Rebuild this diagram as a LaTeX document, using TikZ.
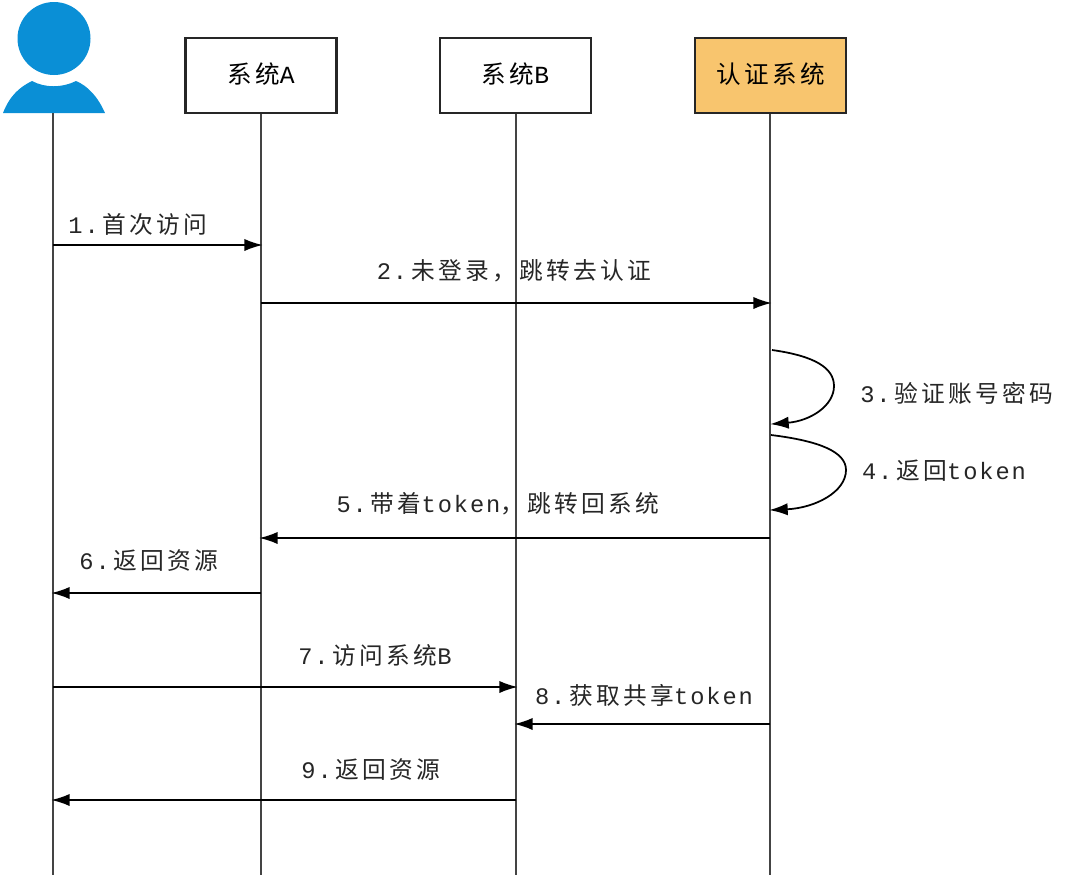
\documentclass[tikz,border=0pt]{standalone}
\usepackage{fontspec}
\setmainfont[LetterSpace=14]{Noto Sans CJK SC}
\newfontfamily\latinfont[LetterSpace=8]{Liberation Mono}
\usetikzlibrary{arrows.meta}
\definecolor{userblue}{HTML}{0A8FD6}
\definecolor{authgold}{HTML}{F8C56E}
\definecolor{lifegray}{HTML}{444444}
\newcommand{\lat}[1]{{\latinfont #1}}
\tikzset{
  sysbox/.style={draw=black!85, line width=1.25pt, minimum width=3.02cm, minimum height=1.5cm, inner sep=0pt, font=\fontsize{14}{16}\selectfont},
  lifeline/.style={lifegray, line width=1.25pt},
  msg/.style={black, line width=1pt, shorten >=-1pt, -{Latex[length=10.5pt,width=7pt]}},
  msglabel/.style={inner sep=0pt, font=\fontsize{13.5}{16}\selectfont, text=black!85},
}
\begin{document}
\begin{tikzpicture}[x=0.02cm, y=-0.02cm]
    \useasboundingbox (0,0) rectangle (1080,877);
    % user icon
    \fill[userblue] (54,38.5) circle (36.5);
    \fill[userblue] (3,113) .. controls (10,95) and (20,87) .. (32,81) .. controls (45,88) and (62,88) .. (76,81) .. controls (88,86) and (98,97) .. (105,113) -- cycle;
    \coordinate (user) at (53,113);
    % systems
    \node[sysbox, text depth=0pt] (sysA) at (261,75.5) {\raisebox{2.5pt}{系统\lat{A}}};
    \node[sysbox, text depth=0pt] (sysB) at (515.5,75.5) {\raisebox{2.5pt}{系统\lat{B}}};
    \node[sysbox, fill=authgold, text depth=0pt] (auth) at (770.5,75.5) {\raisebox{2.5pt}{认证系统}};
    % lifelines
    \coordinate (userEnd) at (53,875);
    \coordinate (sysAEnd) at (261,875);
    \coordinate (sysBEnd) at (516,875);
    \coordinate (authEnd) at (770,875);
    \draw[lifeline] (user) -- (userEnd);
    \draw[lifeline] (sysA.south -| sysAEnd) -- (sysAEnd);
    \draw[lifeline] (sysB.south -| sysBEnd) -- (sysBEnd);
    \draw[lifeline] (auth.south -| authEnd) -- (authEnd);
    % messages
    \draw[msg] (53,245) coordinate (m1a) -- (261,245) coordinate (m1b);
    \node[msglabel] (l1) at (138,224) {\lat{1.}\,首次访问};
    \draw[msg] (261,303) coordinate (m2a) -- (770,303) coordinate (m2b);
    \node[msglabel] (l2) at (514,271) {\lat{2.}\,未登录，跳转去认证};
    \draw[msg] (772,350) coordinate (m3a) .. controls (815,356) and (834,368) .. (834,386) .. controls (834,406) and (810,421) .. (772,424) coordinate (m3b);
    \node[msglabel] (l3) at (957,393) {\lat{3.}\,验证账号密码};
    \draw[msg] (771,435) coordinate (m4a) .. controls (820,441) and (846,452) .. (846,470) .. controls (846,492) and (815,508) .. (771,510) coordinate (m4b);
    \node[msglabel] (l4) at (944,471) {\lat{4.}\,返回\lat{token}};
    \draw[msg] (770,538) coordinate (m5a) -- (261,538) coordinate (m5b);
    \node[msglabel] (l5) at (498,504) {\lat{5.}\,带着\lat{token}，跳转回系统};
    \draw[msg] (261,593) coordinate (m6a) -- (53,593) coordinate (m6b);
    \node[msglabel] (l6) at (149,561) {\lat{6.}\,返回资源};
    \draw[msg] (53,687) coordinate (m7a) -- (516,687) coordinate (m7b);
    \node[msglabel] (l7) at (375,655) {\lat{7.}\,访问系统\lat{B}};
    \draw[msg] (770,724) coordinate (m8a) -- (516,724) coordinate (m8b);
    \node[msglabel] (l8) at (644,695) {\lat{8.}\,获取共享\lat{token}};
    \draw[msg] (516,800) coordinate (m9a) -- (53,800) coordinate (m9b);
    \node[msglabel] (l9) at (371,770) {\lat{9.}\,返回资源};
\end{tikzpicture}
\end{document}
